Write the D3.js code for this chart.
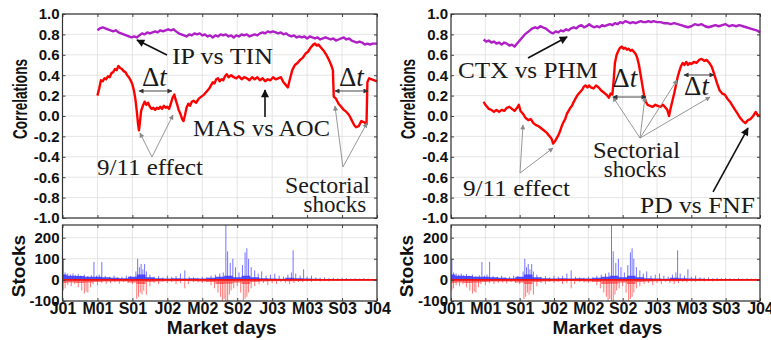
<!DOCTYPE html>
<html>
<head>
<meta charset="utf-8">
<script src="https://cdn.jsdelivr.net/npm/d3@7"></script>
<style>
  body { margin: 0; background: #fff; }
  svg text { font-family: "Liberation Sans", Arial, sans-serif; }
  text.serif { font-family: "Liberation Serif", "Times New Roman", serif; fill: #1a1a1a; }
</style>
</head>
<body>
<div id="chart"></div>
<script>
// ---- data (x in months since Jan 2001) ----
var monthTicks = [0, 4, 8, 12, 16, 20, 24, 28, 32, 36];
var monthLabels = ["J01", "M01", "S01", "J02", "M02", "S02", "J03", "M03", "S03", "J04"];
var corrTicks = [-1, -0.8, -0.6, -0.4, -0.2, 0, 0.2, 0.4, 0.6, 0.8, 1];
var stockTicks = [-100, 0, 100, 200];

var ipTin = [[4.0,0.84],[4.3,0.86],[4.6,0.87],[4.9,0.86],[5.2,0.85],[5.5,0.84],[5.8,0.83],[6.1,0.84],[6.4,0.82],[6.7,0.81],
  [7.0,0.80],[7.3,0.79],[7.6,0.78],[7.9,0.77],[8.2,0.78],[8.5,0.77],[8.8,0.79],[9.1,0.81],[9.4,0.80],[9.7,0.82],
  [10.0,0.81],[10.3,0.82],[10.6,0.83],[10.9,0.82],[11.2,0.84],[11.5,0.83],[11.8,0.84],[12.1,0.85],[12.4,0.84],[12.7,0.85],
  [13.0,0.83],[13.3,0.81],[13.6,0.80],[13.9,0.79],[14.2,0.78],[14.5,0.80],[14.8,0.79],[15.1,0.81],[15.4,0.80],[15.7,0.81],
  [16.0,0.79],[16.3,0.80],[16.6,0.78],[16.9,0.79],[17.2,0.77],[17.5,0.79],[17.8,0.78],[18.1,0.80],[18.4,0.79],[18.7,0.80],
  [19.0,0.78],[19.3,0.79],[19.6,0.77],[19.9,0.79],[20.2,0.78],[20.5,0.80],[20.8,0.79],[21.1,0.80],[21.4,0.78],[21.7,0.79],
  [22.0,0.80],[22.3,0.79],[22.6,0.81],[22.9,0.82],[23.2,0.81],[23.5,0.83],[23.8,0.82],[24.1,0.83],[24.4,0.82],[24.7,0.81],
  [25.0,0.82],[25.3,0.80],[25.6,0.81],[25.9,0.79],[26.2,0.78],[26.5,0.79],[26.8,0.77],[27.1,0.78],[27.4,0.77],[27.7,0.78],
  [28.0,0.76],[28.3,0.78],[28.6,0.77],[28.9,0.76],[29.2,0.77],[29.5,0.75],[29.8,0.76],[30.1,0.77],[30.4,0.76],[30.7,0.75],
  [31.0,0.76],[31.3,0.74],[31.6,0.75],[31.9,0.76],[32.2,0.77],[32.5,0.75],[32.8,0.76],[33.1,0.74],[33.4,0.73],[33.7,0.72],
  [34.0,0.73],[34.3,0.72],[34.6,0.70],[34.9,0.71],[35.2,0.70],[35.5,0.71],[35.8,0.71],[36.0,0.71]];

var masAoc = [[4.0,0.20],[4.2,0.27],[4.4,0.35],[4.6,0.34],[4.8,0.37],[5.0,0.36],[5.2,0.39],[5.4,0.38],[5.6,0.42],[5.8,0.43],
  [6.0,0.46],[6.2,0.45],[6.4,0.49],[6.6,0.47],[6.8,0.46],[7.0,0.44],[7.2,0.43],[7.4,0.40],[7.6,0.38],[7.8,0.35],
  [8.0,0.31],[8.2,0.24],[8.35,0.16],[8.5,0.05],[8.65,-0.08],[8.75,-0.14],[8.85,-0.07],[9.0,0.05],[9.2,0.10],[9.4,0.14],
  [9.6,0.11],[9.8,0.13],[10.0,0.09],[10.2,0.07],[10.4,0.08],[10.6,0.06],[10.8,0.08],[11.0,0.07],[11.2,0.09],[11.4,0.07],
  [11.6,0.10],[11.8,0.08],[12.0,0.09],[12.2,0.07],[12.4,0.12],[12.6,0.18],[12.8,0.21],[12.95,0.16],[13.1,0.12],[13.3,0.06],
  [13.5,0.02],[13.7,-0.03],[13.85,-0.05],[14.0,0.00],[14.2,0.08],[14.4,0.12],[14.6,0.10],[14.8,0.14],[15.0,0.15],[15.3,0.13],
  [15.6,0.17],[15.9,0.19],[16.2,0.21],[16.5,0.24],[16.8,0.27],[17.0,0.30],[17.2,0.33],[17.4,0.32],[17.6,0.36],[17.8,0.37],
  [18.0,0.34],[18.2,0.36],[18.4,0.35],[18.6,0.39],[18.8,0.41],[19.0,0.38],[19.3,0.40],[19.6,0.38],[19.9,0.37],[20.2,0.39],
  [20.5,0.36],[20.8,0.38],[21.1,0.37],[21.4,0.35],[21.7,0.38],[22.0,0.36],[22.3,0.38],[22.6,0.35],[22.9,0.37],[23.2,0.34],
  [23.5,0.36],[23.8,0.35],[24.1,0.38],[24.4,0.36],[24.7,0.37],[25.0,0.38],[25.3,0.33],[25.6,0.30],[25.8,0.28],[26.0,0.35],
  [26.3,0.45],[26.6,0.50],[26.9,0.52],[27.2,0.55],[27.5,0.57],[27.8,0.61],[28.1,0.63],[28.4,0.67],[28.7,0.70],[28.9,0.71],
  [29.1,0.69],[29.3,0.70],[29.6,0.67],[29.9,0.64],[30.2,0.60],[30.5,0.55],[30.8,0.49],[30.95,0.45],[31.05,0.19],[31.3,0.17],
  [31.6,0.12],[31.9,0.09],[32.2,0.06],[32.5,0.04],[32.8,0.01],[33.1,-0.04],[33.4,-0.09],[33.6,-0.11],[33.9,-0.10],[34.2,-0.05],
  [34.5,-0.06],[34.8,-0.08],[34.9,0.33],[35.1,0.37],[35.4,0.36],[35.7,0.35],[36.0,0.34]];

var ctxPhm = [[3.8,0.75],[4.1,0.73],[4.4,0.74],[4.7,0.72],[5.0,0.73],[5.3,0.71],[5.6,0.72],[5.9,0.70],[6.2,0.72],[6.5,0.71],
  [6.8,0.69],[7.1,0.70],[7.4,0.68],[7.7,0.71],[8.0,0.74],[8.3,0.77],[8.6,0.80],[8.9,0.82],[9.2,0.84],[9.5,0.86],
  [9.8,0.87],[10.1,0.86],[10.4,0.88],[10.7,0.87],[11.0,0.86],[11.3,0.84],[11.6,0.82],[11.9,0.81],[12.2,0.83],[12.5,0.82],
  [12.8,0.84],[13.1,0.83],[13.4,0.85],[13.7,0.84],[14.0,0.86],[14.3,0.87],[14.6,0.86],[14.9,0.88],[15.2,0.89],[15.5,0.87],
  [15.8,0.88],[16.1,0.90],[16.4,0.88],[16.7,0.87],[17.0,0.88],[17.3,0.87],[17.6,0.89],[17.9,0.88],[18.2,0.89],[18.5,0.90],
  [18.8,0.89],[19.1,0.91],[19.4,0.90],[19.7,0.92],[20.0,0.91],[20.3,0.93],[20.6,0.92],[20.9,0.91],[21.2,0.92],[21.5,0.91],
  [21.8,0.92],[22.1,0.93],[22.4,0.92],[22.7,0.92],[23.0,0.93],[23.3,0.92],[23.6,0.93],[24.0,0.92],[24.4,0.92],[24.8,0.91],
  [25.2,0.91],[25.6,0.90],[26.0,0.91],[26.4,0.90],[26.8,0.89],[27.2,0.88],[27.6,0.87],[28.0,0.88],[28.4,0.90],[28.8,0.89],
  [29.2,0.90],[29.6,0.88],[30.0,0.87],[30.4,0.88],[30.8,0.89],[31.2,0.88],[31.6,0.89],[32.0,0.90],[32.4,0.88],[32.8,0.89],
  [33.2,0.88],[33.6,0.89],[34.0,0.88],[34.4,0.87],[34.8,0.86],[35.2,0.85],[35.6,0.84],[36.0,0.82]];

var pdFnf = [[3.8,0.14],[4.0,0.11],[4.2,0.09],[4.4,0.07],[4.7,0.06],[5.0,0.04],[5.3,0.06],[5.6,0.04],[5.9,0.06],[6.2,0.05],
  [6.5,0.08],[6.8,0.09],[7.1,0.07],[7.4,0.05],[7.7,0.08],[7.9,0.11],[8.1,0.05],[8.4,0.02],[8.7,-0.02],[9.0,-0.04],
  [9.3,-0.03],[9.6,-0.07],[9.9,-0.09],[10.2,-0.10],[10.5,-0.12],[10.8,-0.14],[11.1,-0.16],[11.4,-0.19],[11.7,-0.22],[11.9,-0.27],
  [12.1,-0.25],[12.3,-0.22],[12.5,-0.19],[12.7,-0.15],[12.9,-0.10],[13.1,-0.06],[13.3,-0.03],[13.5,0.02],[13.7,0.05],[13.9,0.08],
  [14.1,0.10],[14.3,0.14],[14.5,0.17],[14.7,0.20],[14.9,0.22],[15.1,0.24],[15.3,0.26],[15.5,0.29],[15.7,0.30],[15.9,0.28],
  [16.1,0.30],[16.3,0.28],[16.6,0.27],[16.9,0.30],[17.2,0.28],[17.5,0.25],[17.8,0.23],[18.1,0.21],[18.4,0.18],[18.6,0.22],
  [18.8,0.21],[18.95,0.35],[19.1,0.52],[19.3,0.60],[19.5,0.64],[19.7,0.67],[19.9,0.68],[20.1,0.66],[20.3,0.67],[20.5,0.65],
  [20.7,0.66],[20.9,0.64],[21.1,0.65],[21.3,0.63],[21.5,0.61],[21.7,0.57],[21.9,0.50],[22.1,0.40],[22.3,0.30],[22.5,0.20],
  [22.7,0.14],[22.9,0.11],[23.2,0.10],[23.5,0.09],[23.8,0.11],[24.1,0.10],[24.4,0.09],[24.7,0.11],[25.0,0.08],[25.2,0.06],
  [25.4,0.00],[25.6,0.08],[25.8,0.15],[26.0,0.22],[26.2,0.30],[26.4,0.38],[26.6,0.44],[26.8,0.49],[27.0,0.52],[27.2,0.50],
  [27.4,0.53],[27.6,0.50],[27.8,0.52],[28.0,0.51],[28.3,0.53],[28.6,0.52],[28.9,0.55],[29.2,0.56],[29.5,0.54],[29.8,0.55],
  [30.1,0.52],[30.4,0.48],[30.7,0.40],[31.0,0.32],[31.3,0.25],[31.6,0.22],[31.9,0.21],[32.2,0.17],[32.5,0.14],[32.8,0.10],
  [33.1,0.06],[33.4,0.02],[33.7,-0.02],[34.0,-0.05],[34.3,-0.07],[34.6,-0.04],[34.9,-0.03],[35.2,0.00],[35.5,0.04],[35.8,0.00],
  [36.0,0.01]];

// stocks panel: dense band near zero (one value per month) and larger spikes
var bandMonths = d3.range(0, 37);
var blueBand = [25,20,18,15,15,12,10,8,15,25,12,8,6,8,6,8,6,10,15,20,12,20,12,8,6,5,10,8,6,5,4,4,3,3,3,3,3];
var redBand = [-15,-12,-15,-12,-10,-8,-8,-8,-12,-20,-10,-8,-6,-6,-5,-6,-8,-10,-20,-18,-12,-20,-10,-8,-6,-5,-6,-5,-4,-4,-4,-4,-4,-4,-4,-4,-4];

var blueSpikes = [[0.1,100],[0.3,35],[0.6,30],[0.9,25],[1.2,30],[1.5,22],[1.8,28],[2.1,20],[2.5,25],[2.9,18],[3.3,22],[3.6,85],
  [3.9,20],[4.2,25],[4.5,85],[4.9,18],[5.4,15],[5.9,20],[6.3,12],[6.8,15],[7.3,20],[7.8,18],[8.4,40],[8.6,100],[8.8,60],
  [9.0,75],[9.2,50],[9.4,75],[9.6,40],[10.0,25],[10.5,15],[11.0,18],[11.5,12],[12.0,20],[12.5,15],[13.0,18],[13.5,30],
  [14.0,45],[14.5,15],[15.0,12],[15.5,10],[16.0,15],[16.5,12],[17.0,20],[17.5,25],[18.0,30],[18.4,35],[18.7,260],[18.9,135],
  [19.2,80],[19.5,100],[19.8,60],[20.2,35],[20.6,70],[20.9,130],[21.1,150],[21.3,100],[21.6,60],[22.0,45],[22.4,30],[22.8,40],
  [23.3,20],[23.8,25],[24.3,30],[24.8,20],[25.3,15],[25.8,25],[26.2,35],[26.4,140],[26.7,30],[27.2,20],[27.6,50],[28.0,15],
  [28.5,20],[29.0,12],[29.5,10],[30.0,12],[30.5,8],[31.0,10],[31.5,8],[32.0,10],[32.5,8],[33.0,6],[33.5,8],[34.0,6],[34.5,8],
  [35.0,6],[35.5,5]];

var redSpikes = [[0.1,-50],[0.3,-40],[0.6,-25],[1.0,-30],[1.4,-20],[1.8,-35],[2.2,-50],[2.5,-65],[2.7,-55],[2.9,-60],[3.2,-35],
  [3.5,-20],[4.0,-25],[4.5,-15],[5.0,-20],[5.5,-15],[6.0,-12],[6.5,-18],[7.0,-10],[7.5,-15],[8.0,-20],[8.5,-90],[8.7,-80],
  [8.9,-60],[9.1,-70],[9.3,-50],[9.6,-70],[10.0,-30],[10.5,-15],[11.0,-20],[11.5,-10],[12.0,-15],[12.5,-10],[13.0,-20],
  [13.5,-15],[14.0,-40],[14.4,-20],[15.0,-10],[15.5,-12],[16.0,-15],[16.5,-10],[17.0,-25],[17.4,-40],[17.8,-60],[18.1,-80],
  [18.3,-100],[18.5,-90],[18.7,-100],[18.9,-100],[19.1,-70],[19.3,-50],[19.6,-40],[20.0,-30],[20.4,-60],[20.7,-100],[20.9,-90],
  [21.1,-80],[21.3,-60],[21.6,-40],[22.0,-30],[22.5,-20],[23.0,-15],[23.5,-25],[24.0,-15],[24.5,-20],[25.0,-10],[25.5,-15],
  [26.0,-20],[26.5,-15],[27.0,-10],[27.5,-12],[28.0,-8],[28.5,-10],[29.0,-6],[29.5,-8],[30.0,-6],[30.5,-8],[31.0,-6],
  [31.5,-5],[32.0,-6],[33.0,-5],[34.0,-5],[35.0,-4]];

// annotations, in data units (month, correlation); m2 = right end of the text
var leftTexts = [
  {t: "IP vs TIN", m: 12.53, m2: 24.1, v: 0.51},
  {t: "MAS vs AOC", m: 14.94, m2: 30.62, v: -0.196},
  {t: "9/11 effect", m: 3.95, m2: 16.08, v: -0.578},
  {t: "Sectorial", m: 25.47, m2: 35.2, v: -0.755},
  {t: "shocks", m: 27.6, m2: null, v: -0.941}
];
var leftArrows = [
  {k: "black", a: [11.96, 0.598], b: [8.53, 0.745]},
  {k: "black", a: [23.18, -0.01], b: [23.18, 0.255]},
  {k: "gray", a: [10.24, -0.402], b: [8.87, -0.167]},
  {k: "gray", a: [10.24, -0.402], b: [12.65, 0.01]},
  {k: "gray", a: [32.1, -0.5], b: [31.19, 0.098]},
  {k: "gray", a: [32.1, -0.5], b: [34.85, -0.069]}
];
var leftDt = [
  {m: 9.1, v: 0.294, a0: 8.76, a1: 12.53, av: 0.245},
  {m: 31.65, v: 0.294, a0: 31.19, a1: 34.97, av: 0.245}
];
var rightTexts = [
  {t: "CTX vs PHM", m: 0.82, m2: 17.13, v: 0.373},
  {t: "Sectorial", m: 16.54, m2: 26.68, v: -0.412},
  {t: "shocks", m: 17.8, m2: null, v: -0.598},
  {t: "9/11 effect", m: 1.40, m2: 13.86, v: -0.784},
  {t: "PD vs FNF", m: 22.02, m2: 35.42, v: -0.951}
];
var rightArrows = [
  {k: "black", a: [8.97, 0.569], b: [13.52, 0.775]},
  {k: "black", a: [30.53, -0.745], b: [34.6, -0.118]},
  {k: "gray", a: [22.02, -0.216], b: [18.87, 0.186]},
  {k: "gray", a: [22.02, -0.216], b: [22.6, 0.186]},
  {k: "gray", a: [22.02, -0.216], b: [26.33, 0.353]},
  {k: "gray", a: [22.02, -0.216], b: [30.18, 0.186]},
  {k: "gray", a: [8.04, -0.559], b: [8.39, -0.088]},
  {k: "gray", a: [8.04, -0.559], b: [11.88, -0.314]}
];
var rightDt = [
  {m: 18.8, v: 0.284, a0: 18.87, a1: 22.72, av: 0.186},
  {m: 27.15, v: 0.206, a0: 27.15, a1: 30.64, av: 0.402}
];

// ---- drawing ----
var svg = d3.select("#chart").append("svg")
    .attr("width", 771)
    .attr("height", 340);

var defs = svg.append("defs");
function marker(id, color, w, h) {
  defs.append("marker")
      .attr("id", id)
      .attr("viewBox", "0 0 10 10")
      .attr("refX", 9).attr("refY", 5)
      .attr("markerWidth", w).attr("markerHeight", h)
      .attr("markerUnits", "userSpaceOnUse")
      .attr("orient", "auto-start-reverse")
    .append("path")
      .attr("d", "M0,0 L10,5 L0,10 Z")
      .attr("fill", color);
}
marker("hBlack", "#111", 10, 8);
marker("hGray", "#8a8a8a", 6, 5);
marker("hDt", "#333", 6, 5);

var topY = [218, 14], botY = [301, 225];

function drawPanel(p, idx) {
  var g = svg.append("g");
  var x = d3.scaleLinear().domain([0, 36]).range([p.left, p.right]);
  var yC = d3.scaleLinear().domain([-1, 1]).range(topY);
  var yS = d3.scaleLinear().domain([-100, 260]).range(botY);

  // grids
  [[yC, corrTicks], [yS, stockTicks]].forEach(function (s) {
    var y = s[0], ticks = s[1];
    g.append("g").selectAll("line.v").data(monthTicks).enter().append("line")
        .attr("x1", d => x(d)).attr("x2", d => x(d))
        .attr("y1", y.range()[0]).attr("y2", y.range()[1])
        .attr("stroke", "#dedede").attr("stroke-width", 0.8);
    g.append("g").selectAll("line.h").data(ticks).enter().append("line")
        .attr("x1", p.left).attr("x2", p.right)
        .attr("y1", d => y(d)).attr("y2", d => y(d))
        .attr("stroke", "#dedede").attr("stroke-width", 0.8);
  });

  // correlation lines
  var line = d3.line().x(d => x(d[0])).y(d => yC(d[1]));
  p.series.forEach(function (s) {
    g.append("path").datum(s.data)
        .attr("d", line)
        .attr("fill", "none")
        .attr("stroke", s.color)
        .attr("stroke-width", 2.4)
        .attr("stroke-linejoin", "round");
  });

  // stocks panel
  var clipId = "clip" + idx;
  defs.append("clipPath").attr("id", clipId).append("rect")
      .attr("x", p.left).attr("y", botY[1])
      .attr("width", p.right - p.left).attr("height", botY[0] - botY[1]);
  var sg = g.append("g").attr("clip-path", "url(#" + clipId + ")");

  var band = d3.area().x((d, i) => x(bandMonths[i])).y0(yS(0)).y1(d => yS(d)).curve(d3.curveStep);
  sg.append("path").datum(blueBand).attr("d", band).attr("fill", "#1a1aff").attr("opacity", 0.75);
  sg.selectAll("line.bs").data(blueSpikes).enter().append("line")
      .attr("x1", d => x(d[0])).attr("x2", d => x(d[0]))
      .attr("y1", yS(0)).attr("y2", d => yS(d[1]))
      .attr("stroke", "#3a3aff").attr("stroke-width", 1).attr("opacity", 0.7);
  sg.append("path").datum(redBand).attr("d", band).attr("fill", "#ff2020").attr("opacity", 0.6);
  sg.selectAll("line.rs").data(redSpikes).enter().append("line")
      .attr("x1", d => x(d[0])).attr("x2", d => x(d[0]))
      .attr("y1", yS(0)).attr("y2", d => yS(d[1]))
      .attr("stroke", "#ff3030").attr("stroke-width", 1).attr("opacity", 0.65);
  sg.append("line")
      .attr("x1", p.left).attr("x2", p.right)
      .attr("y1", yS(0)).attr("y2", yS(0))
      .attr("stroke", "#ee1010").attr("stroke-width", 1.8);

  // axes (ticks inside)
  var fmt1 = d => d.toFixed(1);
  var axL = g.append("g").attr("transform", "translate(" + p.left + ",0)")
      .call(d3.axisLeft(yC).tickValues(corrTicks).tickFormat(fmt1).tickSizeInner(-3).tickSizeOuter(0).tickPadding(3));
  var axL2 = g.append("g").attr("transform", "translate(" + p.left + ",0)")
      .call(d3.axisLeft(yS).tickValues(stockTicks).tickFormat(d => String(d)).tickSizeInner(-3).tickSizeOuter(0).tickPadding(3));
  var axR = g.append("g").attr("transform", "translate(" + p.right + ",0)")
      .call(d3.axisRight(yC).tickValues(corrTicks).tickFormat("").tickSizeInner(-3).tickSizeOuter(0));
  var axR2 = g.append("g").attr("transform", "translate(" + p.right + ",0)")
      .call(d3.axisRight(yS).tickValues(stockTicks).tickFormat("").tickSizeInner(-3).tickSizeOuter(0));
  var axB = g.append("g").attr("transform", "translate(0," + botY[0] + ")")
      .call(d3.axisBottom(x).tickValues(monthTicks).tickFormat((d, i) => monthLabels[i]).tickSizeInner(-3).tickSizeOuter(0).tickPadding(3));
  var axT = g.append("g").attr("transform", "translate(0," + botY[1] + ")")
      .call(d3.axisTop(x).tickValues(monthTicks).tickFormat("").tickSizeInner(-3).tickSizeOuter(0));
  var axB1 = g.append("g").attr("transform", "translate(0," + topY[0] + ")")
      .call(d3.axisBottom(x).tickValues(monthTicks).tickFormat("").tickSizeInner(-3).tickSizeOuter(0));
  var axT1 = g.append("g").attr("transform", "translate(0," + topY[1] + ")")
      .call(d3.axisTop(x).tickValues(monthTicks).tickFormat("").tickSizeInner(-3).tickSizeOuter(0));
  [axL, axL2, axR, axR2, axB, axT, axB1, axT1].forEach(function (a) {
    a.select(".domain").remove();
    a.selectAll(".tick line").attr("stroke", "#444");
  });
  [axL, axL2].forEach(function (a) {
    a.selectAll("text").attr("font-size", 15).attr("font-weight", "bold").attr("fill", "#111")
        .attr("font-family", "Liberation Sans, Arial, sans-serif");
  });
  axB.selectAll("text").attr("font-size", 16).attr("font-weight", "bold").attr("fill", "#111")
      .attr("font-family", "Liberation Sans, Arial, sans-serif").attr("dy", "0.6em");

  // boxes
  [topY, botY].forEach(function (yr) {
    g.append("rect")
        .attr("x", p.left).attr("y", yr[1])
        .attr("width", p.right - p.left).attr("height", yr[0] - yr[1])
        .attr("fill", "none").attr("stroke", "#333").attr("stroke-width", 1.2);
  });

  // axis titles
  g.append("text")
      .attr("transform", "translate(" + (p.left - 36) + ",99) rotate(-90)")
      .attr("text-anchor", "middle")
      .attr("font-size", 21).attr("font-weight", "bold").attr("fill", "#111")
      .attr("textLength", 80).attr("lengthAdjust", "spacingAndGlyphs")
      .text("Correlations");
  g.append("text")
      .attr("transform", "translate(" + (p.left - 38) + "," + ((botY[0] + botY[1]) / 2 + 3) + ") rotate(-90)")
      .attr("text-anchor", "middle")
      .attr("font-size", 19).attr("font-weight", "bold").attr("fill", "#111")
      .text("Stocks");
  g.append("text")
      .attr("x", (p.left + p.right) / 2 + 2).attr("y", 334)
      .attr("text-anchor", "middle")
      .attr("font-size", 19).attr("font-weight", "bold").attr("fill", "#111")
      .text("Market days");

  // annotations
  p.arrows.forEach(function (a) {
    var black = a.k === "black";
    g.append("line")
        .attr("x1", x(a.a[0])).attr("y1", yC(a.a[1]))
        .attr("x2", x(a.b[0])).attr("y2", yC(a.b[1]))
        .attr("stroke", black ? "#111" : "#8a8a8a")
        .attr("stroke-width", black ? 1.6 : 0.9)
        .attr("marker-end", black ? "url(#hBlack)" : "url(#hGray)");
  });
  p.dts.forEach(function (d) {
    g.append("line")
        .attr("x1", x(d.a0)).attr("x2", x(d.a1))
        .attr("y1", yC(d.av)).attr("y2", yC(d.av))
        .attr("stroke", "#333").attr("stroke-width", 0.9)
        .attr("marker-start", "url(#hDt)").attr("marker-end", "url(#hDt)");
    var t = g.append("text").attr("class", "serif")
        .attr("x", x(d.m)).attr("y", yC(d.v))
        .attr("font-size", 27);
    t.append("tspan").text("\u0394");
    t.append("tspan").attr("font-style", "italic").text("t");
  });
  p.texts.forEach(function (d) {
    var t = g.append("text").attr("class", "serif")
        .attr("x", x(d.m)).attr("y", yC(d.v))
        .attr("font-size", 23)
        .text(d.t);
    if (d.m2 !== null) {
      t.attr("textLength", x(d.m2) - x(d.m)).attr("lengthAdjust", "spacingAndGlyphs");
    }
  });
}

var panels = [
  {left: 62.5, right: 377, texts: leftTexts, arrows: leftArrows, dts: leftDt,
   series: [{data: ipTin, color: "#b01ec8"}, {data: masAoc, color: "#ff0000"}]},
  {left: 451, right: 760, texts: rightTexts, arrows: rightArrows, dts: rightDt,
   series: [{data: ctxPhm, color: "#b01ec8"}, {data: pdFnf, color: "#ff0000"}]}
];
panels.forEach(drawPanel);
</script>
</body>
</html>
